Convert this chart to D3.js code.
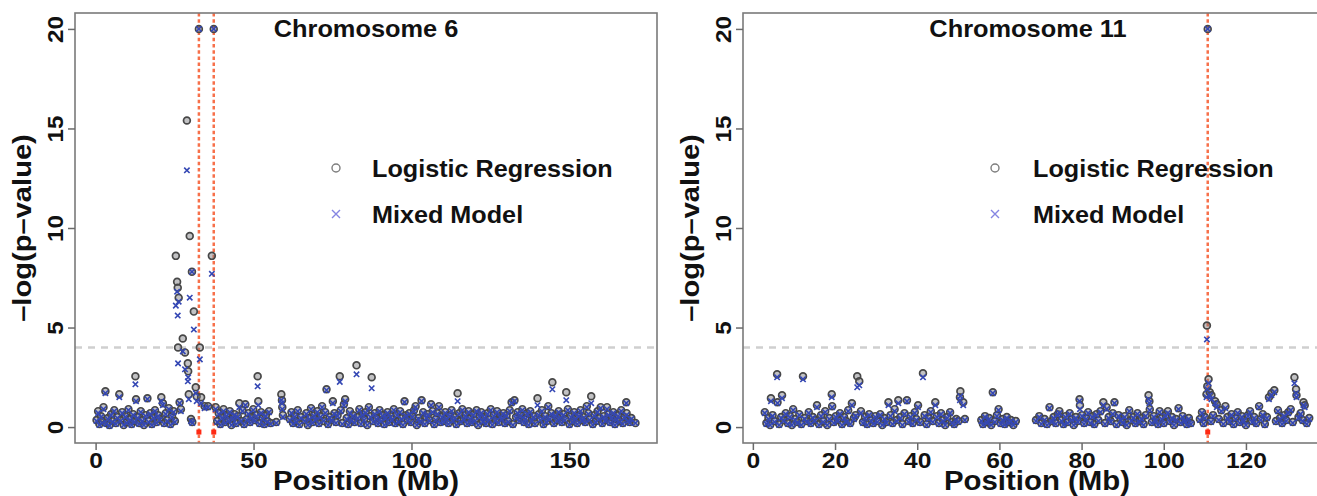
<!DOCTYPE html>
<html>
<head>
<meta charset="utf-8">
<script src="https://cdn.jsdelivr.net/npm/d3@7"></script>
<style>
  html, body { margin: 0; padding: 0; background: #fff; }
  svg { display: block; }
  text { font-family: "Liberation Sans", Arial, Helvetica, sans-serif; font-weight: bold; fill: #111; }
</style>
</head>
<body>
<svg id="chart" width="1317" height="496"></svg>
<script>
// ---- data: [position (Mb), logistic regression -log p, mixed model -log p] ----
const yTicks = [0, 5, 10, 15, 20];
const yLimits = [0, 20];
const threshold = 4;
const chr6Ticks = [0, 50, 100, 150];
const chr11Ticks = [0, 20, 40, 60, 80, 100, 120];
const chr6Causal = [32.7, 37.4];
const chr11Causal = [110.7];
const legendLabels = ['Logistic Regression', 'Mixed Model'];

const chr6Snps = [
  [0.3,0.35,0.3],[0.8,0.8,0.7],[1.2,0.15,0.1],[1.7,0.55,0.5],[2.1,0.3,0.2],[2.5,1.0,0.9],[3.1,1.8,1.7],[3.4,0.2,0.15],
  [3.9,0.45,0.4],[4.4,0.1,0.05],[4.9,0.65,0.6],[5.4,0.3,0.25],[5.9,0.85,0.8],[6.4,0.2,0.15],[6.9,0.5,0.45],[7.5,1.65,1.5],
  [7.9,0.35,0.3],[8.4,0.75,0.7],[8.9,0.1,0.1],[9.4,0.55,0.5],[9.9,0.25,0.2],[10.4,0.9,0.85],[10.9,0.4,0.35],[11.4,0.15,0.1],
  [11.9,0.65,0.6],[12.3,0.3,0.25],[12.6,2.55,2.15],[12.8,1.4,1.3],[13.3,0.5,0.45],[13.8,0.2,0.15],[14.3,0.8,0.75],[14.8,0.35,0.3],
  [15.3,0.1,0.1],[15.8,0.6,0.55],[16.4,1.45,1.4],[16.8,0.3,0.25],[17.3,0.7,0.65],[17.8,0.15,0.1],[18.3,0.5,0.45],[18.8,0.85,0.8],
  [19.3,0.25,0.2],[19.8,0.6,0.55],[20.3,0.4,0.35],[20.8,1.5,1.3],[21.3,1.2,1.1],[21.7,0.2,0.15],[22.2,0.7,0.65],[22.7,0.35,0.3],
  [23.2,0.95,0.9],[23.7,0.15,0.1],[24.2,0.55,0.5],[24.7,0.8,0.75],[25.1,0.3,0.25],
  [25.4,8.6,6.1],[25.8,7.3,6.8],[26.0,7.0,5.6],[26.1,4.0,3.2],[26.3,6.5,6.3],[26.6,1.25,1.2],[27.0,0.9,0.8],[27.6,4.45,3.8],
  [28.3,3.75,2.9],[28.9,15.4,12.9],[29.2,3.2,2.3],[29.3,2.8,2.5],[29.5,1.65,1.4],[29.8,9.6,6.5],[30.2,0.4,0.3],[30.5,7.8,7.8],
  [30.6,0.25,0.2],[31.1,5.8,4.9],[31.7,2.0,1.7],[32.0,1.55,1.3],[32.7,20,20],[33.0,4.0,3.4],[33.4,1.5,1.2],[34.5,1.05,0.95],
  [35.6,1.05,1.0],[36.8,8.6,7.7],[37.4,20,20],[38.0,1.0,0.9],
  [38.5,0.3,0.25],[39.0,0.7,0.65],[39.5,0.15,0.1],[40.0,0.5,0.45],[40.5,0.9,0.8],[41.0,0.25,0.2],[41.5,0.6,0.55],[42.0,0.35,0.3],
  [42.5,0.8,0.75],[43.0,0.1,0.1],[43.5,0.45,0.4],[44.0,0.65,0.6],[44.5,0.2,0.15],[45.0,0.55,0.5],[45.5,1.2,1.0],[46.0,0.3,0.3],
  [46.5,0.85,0.8],[47.0,0.15,0.1],[47.4,1.15,1.1],[47.9,0.4,0.35],[48.4,0.7,0.65],[48.9,0.25,0.2],[49.4,0.5,0.45],[49.9,0.9,0.85],
  [50.4,0.35,0.3],[50.9,0.6,0.55],[51.3,2.55,2.05],[51.5,1.3,1.1],[51.9,0.2,0.15],[52.4,0.75,0.7],[52.9,0.45,0.4],[53.4,0.15,0.1],
  [53.9,0.6,0.55],[54.4,0.3,0.25],[54.9,0.8,0.75],[55.4,0.2,0.15],
  [57.2,0.25,0.2],[58.8,1.65,1.35],[59.0,1.35,1.2],[59.1,1.0,0.9],[59.3,0.6,0.5],
  [61.5,0.4,0.35],[62.0,0.75,0.7],[62.5,0.2,0.15],[63.0,0.55,0.5],[63.5,0.3,0.25],[64.0,0.85,0.8],[64.5,0.15,0.1],[65.0,0.5,0.45],
  [66.2,0.35,0.3],[66.7,0.7,0.65],[67.2,0.1,0.1],[67.7,0.45,0.4],[68.2,0.95,0.9],[68.7,0.25,0.2],[69.2,0.6,0.55],[69.7,0.4,0.35],
  [70.2,0.8,0.75],[70.7,0.2,0.15],[71.2,0.55,0.5],[71.7,1.05,1.0],[72.2,0.3,0.3],[72.7,0.75,0.7],[73.1,1.9,1.85],[73.6,0.15,0.1],
  [74.1,0.5,0.45],[74.6,0.35,0.3],[75.1,1.3,1.2],[75.6,0.7,0.65],[76.1,0.25,0.2],[76.6,0.6,0.55],[77.3,2.55,2.27],[77.6,0.85,0.8],
  [78.1,0.2,0.15],[78.6,1.15,1.1],[79.0,1.4,1.3],[79.5,0.45,0.4],[80.0,0.15,0.1],[80.5,0.8,0.7],[81.0,0.35,0.3],[81.5,0.6,0.55],
  [82.0,0.25,0.2],[82.6,3.1,2.65],[83.0,0.5,0.45],[83.5,0.9,0.85],[84.0,0.2,0.15],[84.5,0.65,0.6],[85.0,0.4,0.35],[85.5,0.75,0.7],
  [86.0,0.1,0.1],[86.5,1.0,0.95],[87.0,0.55,0.5],[87.4,2.5,1.95],[87.9,0.3,0.25],[88.4,0.7,0.65],[88.9,0.45,0.4],[89.4,0.2,0.15],
  [89.9,0.85,0.8],[90.4,0.35,0.3],[90.9,0.6,0.55],[91.4,0.15,0.1],[91.9,0.5,0.45],[92.4,0.75,0.7],[92.9,0.25,0.2],[93.4,0.55,0.5],
  [93.9,0.4,0.35],[94.4,0.9,0.85],[94.9,0.2,0.15],[95.4,0.65,0.6],[95.9,0.3,0.25],[96.4,0.8,0.75],[96.9,0.45,0.4],[97.3,0.15,0.1],
  [97.8,1.3,1.25],[98.3,0.6,0.55],[98.8,0.35,0.3],[99.3,0.7,0.65],[99.8,0.25,0.2],[100.3,0.55,0.5],[100.8,0.85,0.8],[101.3,1.05,1.0],
  [101.7,0.1,0.1],[102.2,0.45,0.4],[102.7,0.3,0.25],[103.2,1.35,1.3],[103.7,0.75,0.7],[104.2,0.2,0.15],[104.7,0.5,0.45],[105.2,0.65,0.6],
  [105.7,0.35,0.3],[106.2,1.15,1.1],[106.7,0.8,0.75],[107.2,0.15,0.1],[107.7,0.4,0.35],[108.2,0.7,0.65],[108.7,1.05,1.0],[109.2,0.25,0.2],
  [109.7,0.55,0.5],[110.2,0.3,0.25],[110.7,0.75,0.7],[111.2,0.45,0.4],[111.7,0.2,0.15],[112.2,0.6,0.55],[112.7,0.85,0.8],[113.2,0.35,0.3],
  [113.7,0.5,0.45],[114.2,0.15,0.1],[114.6,1.7,1.3],[115.1,0.7,0.65],[115.6,0.3,0.25],[116.1,0.9,0.85],[116.6,0.4,0.35],[117.1,0.6,0.55],
  [117.6,0.2,0.15],[118.1,0.8,0.75],[118.6,0.45,0.4],[119.1,0.25,0.2],[119.6,0.65,0.6],[120.1,0.35,0.3],[120.6,0.85,0.8],[121.1,0.1,0.1],
  [121.6,0.55,0.5],[122.1,0.75,0.7],[122.6,0.3,0.25],[123.1,0.5,0.45],[123.6,0.2,0.15],[124.1,0.7,0.65],[124.6,0.4,0.35],[125.1,0.9,0.85],
  [125.6,0.15,0.1],[126.1,0.6,0.55],[126.6,0.35,0.3],[127.1,0.8,0.75],[127.6,0.25,0.2],[128.1,0.55,0.5],[128.6,0.45,0.4],[129.1,0.7,0.65],
  [129.6,0.2,0.15],[130.1,0.6,0.55],[130.6,0.3,0.25],[131.1,0.85,0.8],[131.7,1.25,1.2],[132.1,0.15,0.1],[132.6,1.35,1.3],[133.1,0.5,0.45],
  [133.6,0.75,0.7],[134.1,0.35,0.3],[134.6,0.6,0.55],[135.1,0.9,0.85],[135.6,0.25,0.2],[136.1,0.45,0.4],[136.6,0.7,0.65],[137.1,0.15,0.1],
  [137.6,0.8,0.75],[138.1,0.35,0.3],[138.6,0.55,0.5],[139.1,0.2,0.15],[139.9,1.45,1.1],[140.3,0.65,0.6],[140.8,0.4,0.35],[141.3,0.85,0.8],
  [141.8,0.15,0.1],[142.3,0.55,0.5],[142.8,0.3,0.25],[143.3,1.05,1.0],[143.8,0.45,0.4],[144.3,0.7,0.65],[144.6,2.25,1.9],[145.1,0.2,0.15],
  [145.6,0.6,0.55],[146.1,0.35,0.3],[146.6,0.8,0.75],[147.1,0.5,0.45],[147.6,0.25,0.2],[148.1,0.65,0.6],[148.6,0.4,0.35],[149.0,1.75,1.35],
  [149.5,0.9,0.85],[150.0,0.15,0.1],[150.5,0.55,0.5],[151.0,0.3,0.25],[151.5,0.75,0.7],[152.0,0.45,0.4],[152.5,0.2,0.15],[153.0,0.6,0.55],
  [153.5,0.85,0.8],[154.0,0.35,0.3],[154.5,0.5,0.45],[155.0,0.25,0.2],[155.5,1.05,1.0],[156.0,0.7,0.65],[156.4,0.4,0.35],[156.9,1.55,1.2],
  [157.4,0.15,0.1],[157.9,0.6,0.55],[158.4,0.3,0.25],[158.9,0.8,0.75],[159.4,0.45,0.4],[159.9,1.0,0.95],[160.4,0.2,0.15],[160.9,0.55,0.5],
  [161.4,0.35,0.3],[161.9,1.0,0.9],[162.4,0.65,0.6],[162.9,0.25,0.2],[163.4,0.5,0.45],[163.9,0.75,0.7],[164.4,0.15,0.1],[164.9,0.4,0.35],
  [165.4,0.6,0.55],[165.9,0.3,0.25],[166.4,0.85,0.8],[166.9,0.2,0.15],[167.4,0.5,0.45],[168.0,1.25,1.2],[168.1,0.7,0.6],[168.6,0.35,0.3],
  [169.1,0.25,0.2],[169.6,0.45,0.4],[170.9,0.2,0.2]
];

const chr11Snps = [
  [2.9,0.75,0.7],[3.3,0.2,0.15],[3.8,0.45,0.4],[4.2,0.1,0.1],[4.4,1.45,1.3],[4.8,0.6,0.55],[5.3,0.3,0.25],[5.9,2.65,2.5],
  [6.0,1.25,1.2],[6.4,0.15,0.1],[6.9,0.5,0.45],[7.1,1.6,1.45],[7.5,0.35,0.3],[8.0,0.7,0.65],[8.5,0.2,0.15],[9.0,0.55,0.5],
  [9.5,0.1,0.1],[9.8,0.9,0.85],[10.3,0.4,0.35],[10.8,0.25,0.2],[11.3,0.65,0.6],[11.8,0.15,0.1],[12.2,2.55,2.4],[12.6,0.45,0.4],
  [13.1,0.3,0.25],[13.6,0.75,0.7],[14.1,0.2,0.15],[14.6,0.5,0.45],[15.1,0.35,0.3],[15.6,1.1,1.0],[16.1,0.15,0.1],[16.6,0.6,0.55],
  [17.1,0.3,0.25],[17.6,0.8,0.75],[18.1,0.1,0.1],[18.6,0.45,0.4],[19.2,1.65,1.5],[19.3,1.05,1.0],[19.7,0.25,0.2],[20.2,0.55,0.5],
  [20.7,0.35,0.3],[21.2,0.7,0.65],[21.7,0.15,0.1],[22.2,0.5,0.45],[22.7,0.3,0.25],[23.2,0.85,0.8],[23.7,0.2,0.15],[24.1,1.2,1.1],
  [24.6,0.45,0.4],[25.0,0.6,0.55],[25.4,2.55,2.0],[25.9,2.3,2.1],[26.3,0.8,0.7],[26.8,0.25,0.2],[27.3,0.5,0.45],[27.8,0.15,0.1],
  [28.3,0.65,0.6],[28.8,0.35,0.3],[29.3,0.2,0.15],[29.8,0.55,0.5],[30.3,0.3,0.25],[31.0,0.65,0.6],[31.5,0.1,0.1],[32.0,0.45,0.4],
  [32.5,0.25,0.2],[33.0,1.25,1.1],[33.5,0.6,0.55],[34.0,0.2,0.15],[34.5,0.9,0.8],[35.0,0.35,0.3],[35.4,1.35,1.2],[35.9,0.5,0.45],
  [36.4,0.15,0.1],[36.9,0.7,0.65],[37.5,1.35,1.3],[37.9,0.3,0.25],[38.4,0.55,0.5],[38.9,0.2,0.15],[39.4,0.75,0.7],[39.8,0.4,0.35],
  [40.2,1.1,1.0],[40.7,0.25,0.2],[41.4,2.7,2.5],[41.8,0.6,0.55],[42.3,0.15,0.1],[42.8,0.45,0.4],[43.3,0.8,0.75],[43.8,0.3,0.25],
  [44.4,1.25,1.1],[44.8,0.55,0.5],[45.3,0.2,0.15],[45.8,0.7,0.65],[46.3,0.35,0.3],[46.8,0.1,0.1],[47.3,0.5,0.45],[48.0,0.75,0.7],
  [48.5,0.25,0.2],[49.0,0.15,0.1],[49.5,0.4,0.35],[50.0,0.3,0.25],[50.4,1.5,1.35],[50.5,1.8,1.55],[51.2,1.25,1.1],[51.6,0.4,0.35],
  [55.6,0.35,0.3],[56.0,0.15,0.1],[56.5,0.55,0.5],[57.0,0.25,0.2],[57.5,0.45,0.4],[58.0,0.1,0.1],[58.4,1.75,1.7],[58.9,0.3,0.25],
  [59.4,0.6,0.55],[59.8,0.9,0.85],[60.3,0.2,0.15],[60.8,0.4,0.35],[61.3,0.15,0.1],[61.8,0.5,0.45],[62.3,0.25,0.2],[62.8,0.35,0.3],
  [63.4,0.1,0.1],[64.0,0.3,0.25],
  [68.9,0.35,0.3],[69.7,0.55,0.5],[70.2,0.2,0.15],[71.0,0.4,0.35],[71.6,0.15,0.1],[72.2,1.0,0.95],[72.7,0.3,0.25],[73.2,0.5,0.45],
  [73.7,0.2,0.15],[74.2,0.65,0.6],[74.6,0.8,0.7],[75.1,0.35,0.3],[75.6,0.15,0.1],[76.1,0.55,0.5],[76.6,0.25,0.2],[77.1,0.7,0.65],
  [77.6,0.4,0.35],[78.1,0.1,0.1],[78.6,0.5,0.45],[79.1,0.3,0.25],[79.5,1.4,1.3],[79.6,1.1,0.9],[80.1,0.6,0.55],[80.6,0.2,0.15],
  [81.1,0.45,0.4],[81.6,0.75,0.7],[82.1,0.25,0.2],[82.6,0.55,0.5],[83.1,0.15,0.1],[83.6,0.65,0.6],[84.1,0.35,0.3],[84.6,0.8,0.75],
  [85.3,1.25,1.1],[85.7,0.2,0.15],[86.1,1.0,0.9],[86.6,0.5,0.45],[87.1,0.3,0.25],[87.6,0.7,0.65],[88.0,1.25,1.2],[88.5,0.15,0.1],
  [89.0,0.6,0.55],[89.5,0.4,0.35],[90.0,0.25,0.2],[90.5,0.55,0.5],[91.0,0.1,0.1],[91.6,0.85,0.8],[92.1,0.35,0.3],[92.6,0.5,0.45],
  [93.1,0.2,0.15],[93.6,0.7,0.65],[94.1,0.3,0.25],[94.6,0.45,0.4],[95.1,0.15,0.1],[95.6,0.6,0.55],[96.3,1.6,1.4],[96.5,1.3,1.2],
  [96.6,0.9,0.85],[97.1,0.25,0.2],[97.6,0.55,0.5],[98.1,0.35,0.3],[98.6,0.15,0.1],[99.0,0.8,0.75],[99.5,0.45,0.4],[100.0,0.2,0.15],
  [100.5,0.6,0.55],[101.0,0.8,0.7],[101.5,0.3,0.25],[102.0,0.5,0.45],[102.5,0.1,0.1],[103.0,0.4,0.35],[103.6,0.95,0.9],[104.1,0.25,0.2],
  [104.6,0.55,0.5],[105.1,0.35,0.3],[105.6,0.15,0.1],[106.1,0.45,0.4],[106.6,0.2,0.15],
  [108.8,0.4,0.35],[109.3,0.75,0.7],[109.7,0.2,0.15],[110.0,0.5,0.45],[110.4,1.65,1.5],[110.5,5.1,4.4],[110.6,2.05,1.9],[110.7,20,20],
  [110.9,2.4,2.2],[111.2,1.75,1.6],[111.5,0.3,0.25],[111.6,1.6,1.4],[112.0,0.6,0.55],[112.5,1.3,1.2],[112.9,1.15,1.0],[113.4,0.4,0.35],
  [114.0,0.85,0.8],[114.5,0.2,0.15],[115.0,1.05,0.95],[115.5,0.5,0.45],[116.0,0.3,0.25],[116.5,0.65,0.6],[117.0,0.15,0.1],[117.5,0.45,0.4],
  [118.0,0.75,0.7],[118.5,0.25,0.2],[119.0,0.55,0.5],[119.5,0.35,0.3],[120.0,0.1,0.1],[120.5,0.6,0.55],[121.0,0.8,0.75],[121.5,0.3,0.25],
  [122.0,0.5,0.45],[122.5,0.2,0.15],[123.2,1.05,1.0],[123.6,0.4,0.35],[124.1,0.65,0.6],[124.6,0.15,0.1],[125.1,0.5,0.45],[125.6,1.5,1.4],
  [126.2,1.7,1.6],[126.9,1.85,1.75],[127.3,0.3,0.25],[127.8,0.85,0.8],[128.3,0.45,0.4],[128.8,0.2,0.15],[129.3,0.6,0.55],[129.8,0.35,0.3],
  [130.3,0.75,0.7],[130.9,0.9,0.85],[131.4,0.25,0.2],[131.8,2.5,2.2],[132.2,1.9,1.7],[132.3,1.6,1.5],[132.8,0.5,0.45],[133.3,0.7,0.65],
  [133.8,0.35,0.3],[134.0,1.25,1.1],[134.3,1.1,1.0],[134.8,0.2,0.15],[135.4,0.45,0.4]
];

// ---- layout ----
const plotTop = 13, plotBottom = 443;
const panels = [
  { title: 'Chromosome 6',  snps: chr6Snps,  ticks: chr6Ticks,  causal: chr6Causal,  left: 75,  width: 582, titleX: 291, legX: 261, legTextX: 297 },
  { title: 'Chromosome 11', snps: chr11Snps, ticks: chr11Ticks, causal: chr11Causal, left: 743, width: 588, titleX: 285, legX: 252, legTextX: 290 }
];

const svg = d3.select('#chart');

// R style axis range: data range padded by 4%
function pad(ext) {
  const d = (ext[1] - ext[0]) * 0.04;
  return [ext[0] - d, ext[1] + d];
}

const y = d3.scaleLinear().domain(pad(yLimits)).range([plotBottom, plotTop]);

// text with horizontal stretch in its own direction
function label(g, x0, y0, str, size, stretch, rot, anchor) {
  return g.append('text')
    .attr('transform', `translate(${x0},${y0}) rotate(${rot || 0}) scale(${stretch},1)`)
    .attr('text-anchor', anchor || 'middle')
    .style('font-size', size + 'px')
    .text(str);
}

const crossPath = s => `M${-s},${-s}L${s},${s}M${-s},${s}L${s},${-s}`;

panels.forEach(p => {
  const g = svg.append('g');
  const x = d3.scaleLinear()
    .domain(pad(d3.extent(p.snps, d => d[0])))
    .range([p.left, p.left + p.width]);

  // threshold line
  g.append('line')
    .attr('x1', p.left).attr('x2', p.left + p.width)
    .attr('y1', y(threshold)).attr('y2', y(threshold))
    .attr('stroke', '#cfcfcf').attr('stroke-width', 2.5)
    .attr('stroke-dasharray', '7 6');

  // causal SNP lines
  g.selectAll('.causal')
    .data(p.causal)
    .enter().append('line')
    .attr('x1', d => x(d)).attr('x2', d => x(d))
    .attr('y1', plotTop).attr('y2', plotBottom)
    .attr('stroke', '#f7704a').attr('stroke-width', 2.5)
    .attr('stroke-dasharray', '3.5 2.7');

  // logistic regression points (open circles, soft grey inside)
  g.selectAll('.lr')
    .data(p.snps)
    .enter().append('circle')
    .attr('cx', d => x(d[0]))
    .attr('cy', d => y(d[1]))
    .attr('r', 3.4)
    .attr('fill', 'rgba(120,120,125,0.45)')
    .attr('stroke', '#474747')
    .attr('stroke-width', 1.7);

  // mixed model points (crosses)
  g.selectAll('.mm')
    .data(p.snps)
    .enter().append('path')
    .attr('transform', d => `translate(${x(d[0])},${y(d[2])})`)
    .attr('d', crossPath(2.7))
    .attr('stroke', '#3447b4')
    .attr('stroke-width', 1.6)
    .attr('fill', 'none');

  // causal markers at the bottom
  g.selectAll('.mark')
    .data(p.causal)
    .enter().append('rect')
    .attr('x', d => x(d) - 2.5)
    .attr('y', y(-0.25) - 2.5)
    .attr('width', 5).attr('height', 5)
    .attr('fill', '#ff2a14');

  // box
  g.append('rect')
    .attr('x', p.left).attr('y', plotTop)
    .attr('width', p.width).attr('height', plotBottom - plotTop)
    .attr('fill', 'none').attr('stroke', '#7a7a7a').attr('stroke-width', 1.6);

  // y axis
  const ya = g.append('g')
    .attr('transform', `translate(${p.left},0)`)
    .call(d3.axisLeft(y).tickValues(yTicks).tickSize(7).tickFormat(d3.format('d')));
  ya.select('.domain').remove();
  ya.selectAll('.tick line').attr('stroke', '#6a6a6a').attr('stroke-width', 1.5);
  ya.selectAll('.tick text')
    .attr('x', null).attr('dy', null)
    .attr('transform', 'translate(-12,0) rotate(-90) scale(1.1,1)')
    .attr('text-anchor', 'middle')
    .attr('fill', '#111')
    .style('font-size', '22px');

  // x axis
  const xa = g.append('g')
    .attr('transform', `translate(0,${plotBottom})`)
    .call(d3.axisBottom(x).tickValues(p.ticks).tickSize(7).tickFormat(d3.format('d')));
  xa.select('.domain').remove();
  xa.selectAll('.tick line').attr('stroke', '#6a6a6a').attr('stroke-width', 1.5);
  xa.selectAll('.tick text')
    .attr('y', null).attr('dy', null)
    .attr('transform', 'translate(0,25) scale(1.12,1)')
    .attr('fill', '#111')
    .style('font-size', '22px');

  // axis titles
  label(g, p.left + p.width / 2, 490, 'Position (Mb)', 28, 1.05);
  label(g, p.left - 44, (plotTop + plotBottom) / 2, '–log(p–value)', 26, 1.12, -90);

  // panel title
  label(g, p.left + p.titleX, 37, p.title, 23.5, 1.08);

  // legend
  g.append('circle')
    .attr('cx', p.left + p.legX).attr('cy', 168).attr('r', 4)
    .attr('fill', 'none').attr('stroke', '#7d7d7d').attr('stroke-width', 1.4);
  g.append('path')
    .attr('transform', `translate(${p.left + p.legX},214)`)
    .attr('d', crossPath(4))
    .attr('stroke', '#8585e2').attr('stroke-width', 1.4);
  label(g, p.left + p.legTextX, 177, legendLabels[0], 24, 1.05, 0, 'start');
  label(g, p.left + p.legTextX, 223, legendLabels[1], 24, 1.05, 0, 'start');
});
</script>
</body>
</html>
